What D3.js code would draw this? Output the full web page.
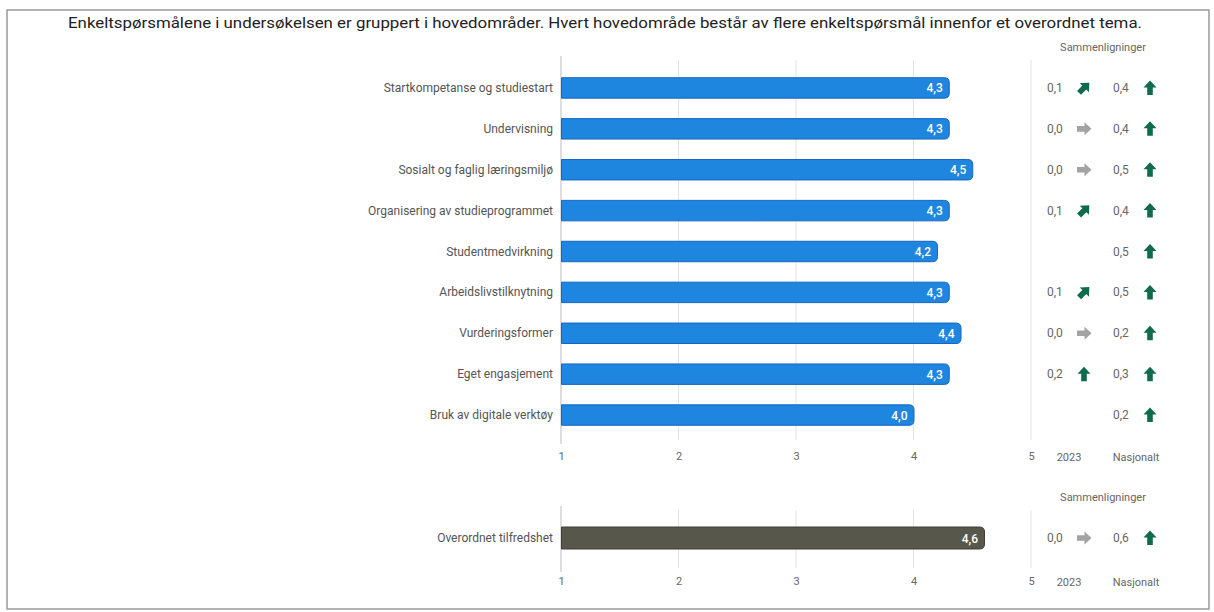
<!DOCTYPE html>
<html>
<head>
<meta charset="utf-8">
<script src="https://cdn.jsdelivr.net/npm/d3@7"></script>
<style>
  body { margin: 0; background: #fff; }
  text { font-family: Roboto, "Noto Sans", sans-serif; }
</style>
</head>
<body>
<script>
var title = "Enkeltspørsmålene i undersøkelsen er gruppert i hovedområder. Hvert hovedområde består av flere enkeltspørsmål innenfor et overordnet tema.";
var categories = ["Startkompetanse og studiestart", "Undervisning", "Sosialt og faglig læringsmiljø",
  "Organisering av studieprogrammet", "Studentmedvirkning", "Arbeidslivstilknytning",
  "Vurderingsformer", "Eget engasjement", "Bruk av digitale verktøy"];
var scores = [4.3, 4.3, 4.5, 4.3, 4.2, 4.3, 4.4, 4.3, 4.0];
var diff2023 = [0.1, 0.0, 0.0, 0.1, null, 0.1, 0.0, 0.2, null];
var dir2023 = ["diag", "right", "right", "diag", null, "diag", "right", "up", null];
var diffNational = [0.4, 0.4, 0.5, 0.4, 0.5, 0.5, 0.2, 0.3, 0.2];
var dirNational = ["up", "up", "up", "up", "up", "up", "up", "up", "up"];

var overallCategory = ["Overordnet tilfredshet"];
var overallScore = [4.6];
var overallDiff2023 = [0.0];
var overallDir2023 = ["right"];
var overallDiffNational = [0.6];
var overallDirNational = ["up"];

var ticks = [1, 2, 3, 4, 5];
var colLabels = ["2023", "Nasjonalt"];
var headerLabel = "Sammenligninger";

var W = 1214, H = 612;
var svg = d3.select("body").append("svg").attr("width", W).attr("height", H);

// frame
svg.append("rect").attr("x", 7).attr("y", 10).attr("width", 1202).attr("height", 599)
  .attr("fill", "none").attr("stroke", "#9a9a9a").attr("stroke-width", 1.5);

svg.append("text").attr("x", 68).attr("y", 28)
  .attr("font-family", "'Open Sans', sans-serif").attr("font-size", 14).attr("fill", "#222")
  .attr("textLength", 1074).attr("lengthAdjust", "spacingAndGlyphs")
  .text(title);

var x = d3.scaleLinear().domain([1, 5]).range([561, 1031]);
var fmt = function (v) { return d3.format(".1f")(v).replace(".", ","); };

var col1 = 1047, arr1 = 1084, col2 = 1113, arr2 = 1150;

function barPath(x0, y0, w, h, r) {
  return "M" + x0 + "," + y0 + "H" + (x0 + w - r) +
    "Q" + (x0 + w) + "," + y0 + " " + (x0 + w) + "," + (y0 + r) +
    "V" + (y0 + h - r) +
    "Q" + (x0 + w) + "," + (y0 + h) + " " + (x0 + w - r) + "," + (y0 + h) +
    "H" + x0 + "Z";
}

// block arrow pointing up, centred on 0,0
var arrowShape = "M0,-7.5 L6.5,-0.5 L2.8,-0.5 L2.8,7 L-2.8,7 L-2.8,-0.5 L-6.5,-0.5 Z";
var rot = { up: 0, diag: 45, right: 90 };

function drawArrow(g, cx, cy, dir) {
  if (!dir) return;
  g.append("path").attr("d", arrowShape)
    .attr("transform", "translate(" + cx + "," + cy + ") rotate(" + rot[dir] + ")")
    .attr("fill", dir == "right" ? "#a3a3a3" : "#0f6b4b");
}

function drawPanel(cats, vals, d23, dr23, dNat, drNat, yTop, yBottom, barTop, barBottom, fill, stroke, headerY, tickY) {
  var g = svg.append("g");
  var y = d3.scaleBand().domain(cats).range([barTop, barBottom])
    .paddingInner(cats.length > 1 ? 0.5 : 0).paddingOuter(cats.length > 1 ? 0.25 : 0);

  // grid
  g.selectAll(".grid").data(ticks).enter().append("line")
    .attr("x1", function (d) { return x(d); }).attr("x2", function (d) { return x(d); })
    .attr("y1", function (d) { return d == 1 ? yTop - 4 : yTop; })
    .attr("y2", function (d) { return d == 1 ? yBottom + 4 : yBottom; })
    .attr("stroke", function (d) { return d == 1 ? "#bdbdbd" : "#e3e3e3"; })
    .attr("stroke-width", 1);

  // axis labels
  var axis = d3.axisBottom(x).tickValues(ticks).tickSize(0).tickPadding(0).tickFormat(d3.format("d"));
  var ax = g.append("g").attr("transform", "translate(0," + (tickY - 8) + ")").call(axis);
  ax.select(".domain").remove();
  ax.selectAll("text").attr("fill", "#666").attr("font-size", 11).attr("font-family", "Roboto, sans-serif");

  g.append("text").attr("x", 1069).attr("y", tickY + 1).attr("text-anchor", "middle")
    .attr("font-size", 11).attr("fill", "#666").text(colLabels[0]);
  g.append("text").attr("x", 1136).attr("y", tickY + 1).attr("text-anchor", "middle")
    .attr("font-size", 11).attr("fill", "#666").text(colLabels[1]);
  g.append("text").attr("x", 1103).attr("y", headerY).attr("text-anchor", "middle")
    .attr("font-size", 11).attr("fill", "#666").text(headerLabel);

  // category labels
  g.selectAll(".cat").data(cats).enter().append("text")
    .attr("x", 553).attr("y", function (d) { return y(d) + y.bandwidth() / 2 + 4; })
    .attr("text-anchor", "end").attr("font-size", 12).attr("fill", "#555")
    .text(function (d) { return d; });

  // bars
  g.selectAll(".bar").data(vals).enter().append("path")
    .attr("d", function (d, i) { return barPath(x(1) + 0.5, y(cats[i]), x(d) - x(1), y.bandwidth(), 5); })
    .attr("fill", fill).attr("stroke", stroke).attr("stroke-width", 1);

  g.selectAll(".val").data(vals).enter().append("text")
    .attr("x", function (d) { return x(d) - 6; })
    .attr("y", function (d, i) { return y(cats[i]) + y.bandwidth() / 2 + 4.5; })
    .attr("text-anchor", "end").attr("font-size", 12).attr("font-weight", 500).attr("fill", "#fff")
    .text(function (d) { return fmt(d); });

  // comparisons
  cats.forEach(function (c, i) {
    var cy = y(c) + y.bandwidth() / 2;
    if (d23[i] != null) {
      g.append("text").attr("x", col1).attr("y", cy + 4).attr("font-size", 12).attr("fill", "#666").text(fmt(d23[i]));
      drawArrow(g, arr1, cy, dr23[i]);
    }
    if (dNat[i] != null) {
      g.append("text").attr("x", col2).attr("y", cy + 4).attr("font-size", 12).attr("fill", "#666").text(fmt(dNat[i]));
      drawArrow(g, arr2, cy, drNat[i]);
    }
  });
}

drawPanel(categories, scores, diff2023, dir2023, diffNational, dirNational,
  60, 440, 67.5, 435.5, "#1f86e0", "#1466c0", 51, 460);

drawPanel(overallCategory, overallScore, overallDiff2023, overallDir2023, overallDiffNational, overallDirNational,
  510, 568, 527, 549, "#57574b", "#3f3f36", 501, 585);
</script>
</body>
</html>
